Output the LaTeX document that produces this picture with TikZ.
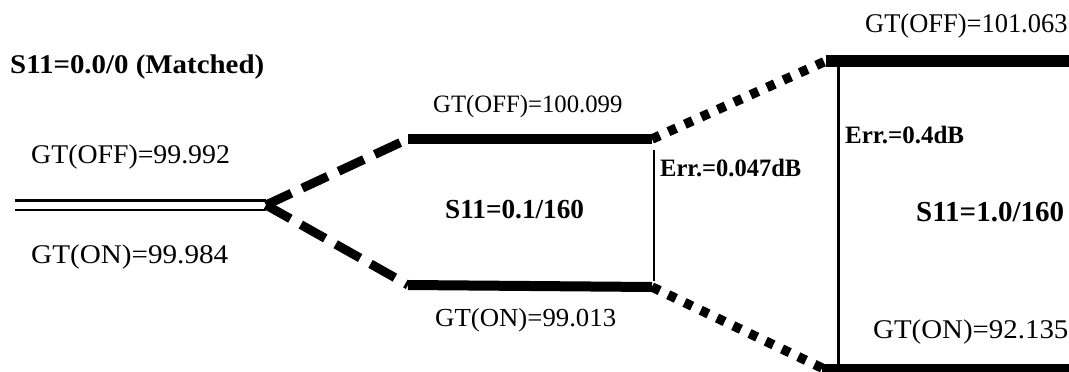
\documentclass[tikz,border=0pt]{standalone}
\usepackage{fontspec}
\setmainfont{Liberation Serif}
\begin{document}
\begin{tikzpicture}[x=1pt,y=-1pt,
  lbl/.style={inner sep=0pt, anchor=base west},
  bar/.style={line width=10pt, line cap=butt},
  thin/.style={line width=2pt},
  dashedlink/.style={line width=9pt, dash pattern=on 28pt off 12pt},
  dottedlink/.style={line width=9.5pt, dash pattern=on 8.5pt off 9.5pt}]
\useasboundingbox (0,0) rectangle (1069,372);
% coordinates
\coordinate (s0) at (15,205);
\coordinate (j) at (266,205);
\coordinate (a1) at (408,139);
\coordinate (a2) at (652,139);
\coordinate (b1) at (408,285);
\coordinate (b2) at (652,287);
\coordinate (c1) at (826,61);
\coordinate (c2) at (1069,61);
\coordinate (d1) at (822,368);
\coordinate (d2) at (1069,368);
\coordinate (v1t) at (654,150);
\coordinate (v1b) at (654,281);
\coordinate (v2t) at (838,61);
\coordinate (v2b) at (838,368);
% double line
\draw[line width=2.5pt, double, double distance=7pt] (s0) -- (j);
% dashed links
\draw[dashedlink] (j) -- (a1);
\draw[dashedlink] (j) -- (b1);
% middle bars
\draw[bar] (a1) -- (a2);
\draw[bar] (b1) -- (b2);
% dotted links
\draw[dottedlink] (a2) -- (c1);
\draw[dottedlink] (b2) -- (d1);
% right bars
\draw[bar, line width=12pt] (c1) -- (c2);
\draw[bar, line width=9pt] (d1) -- (d2);
% vertical lines
\draw[thin] (v1t) -- (v1b);
\draw[line width=3pt] (v2t) -- (v2b);
% labels
\node[lbl, font=\bfseries\fontsize{27}{27}\selectfont, xscale=1.07] (m) at (10,73) {S11=0.0/0 (Matched)};
\node[lbl, font=\fontsize{27}{27}\selectfont, xscale=1.03] (g1) at (31,163) {GT(OFF)=99.992};
\node[lbl, font=\fontsize{27}{27}\selectfont, xscale=1.08] (g2) at (31,263) {GT(ON)=99.984};
\node[lbl, font=\fontsize{25}{25}\selectfont, xscale=0.99] (g3) at (433,112) {GT(OFF)=100.099};
\node[lbl, font=\fontsize{26}{26}\selectfont, xscale=1.03] (g4) at (435,326) {GT(ON)=99.013};
\node[lbl, font=\bfseries\fontsize{27.5}{27.5}\selectfont, xscale=0.99] (s1) at (445,218) {S11=0.1/160};
\node[lbl, font=\bfseries\fontsize{25}{25}\selectfont, xscale=0.98] (e1) at (660,176) {Err.=0.047dB};
\node[lbl, font=\bfseries\fontsize{25}{25}\selectfont] (e2) at (845,143) {Err.=0.4dB};
\node[lbl, font=\bfseries\fontsize{29}{29}\selectfont] (s2) at (916,221) {S11=1.0/160};
\node[lbl, font=\fontsize{27}{27}\selectfont, xscale=0.98] (g5) at (865,32) {GT(OFF)=101.063};
\node[lbl, font=\fontsize{27}{27}\selectfont, xscale=1.07] (g6) at (873,338) {GT(ON)=92.135};
\end{tikzpicture}
\end{document}
